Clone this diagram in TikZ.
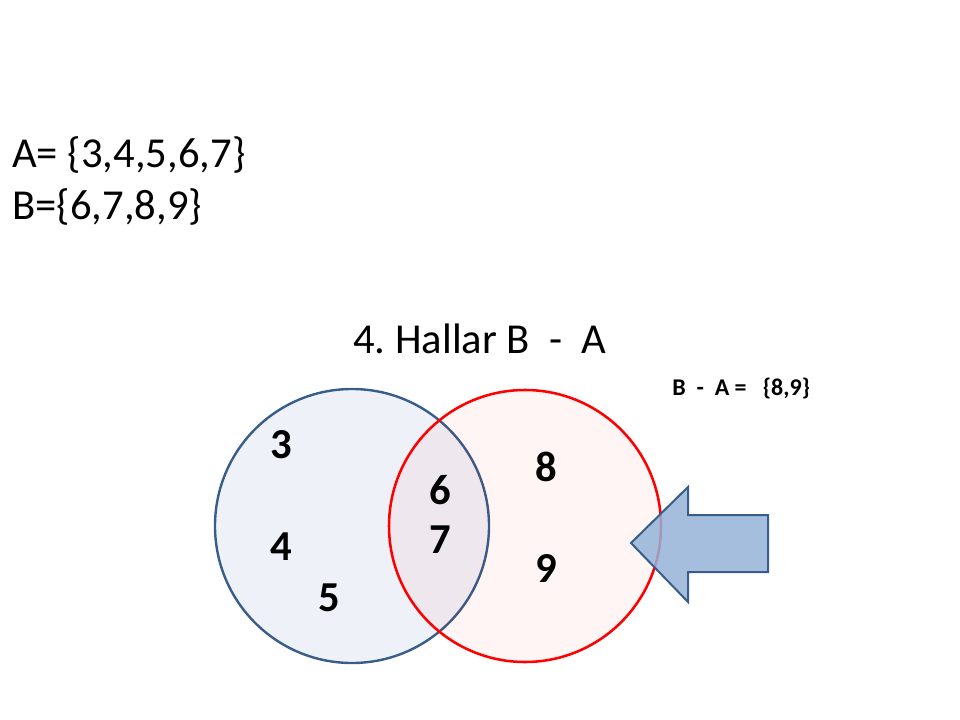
\documentclass[tikz,border=0pt]{standalone}
\usepackage{fontspec}
\setmainfont{Carlito}
\usepackage{tikz}
\usetikzlibrary{shapes,arrows}
\definecolor{setblue}{RGB}{56,93,138}
\definecolor{setfill}{RGB}{238,242,248}
\definecolor{arrowfill}{RGB}{149,179,215}
\tikzstyle{invis} = [draw=none, inner sep=0pt]
\tikzstyle{line} = [invis, anchor=base west, font=\fontsize{32}{34}\selectfont]
\tikzstyle{elem} = [invis, font=\bfseries\fontsize{32}{34}\selectfont]
\tikzstyle{setA} = [draw=setblue, fill=setfill, line width=1.8pt]
\tikzstyle{setB} = [draw=red, fill=red, fill opacity=0.04, line width=1.9pt]
\frenchspacing

\begin{document}
\begin{tikzpicture}[x=0.75pt,y=-0.75pt]
\useasboundingbox (0,0) rectangle (960,720);

\node[line] (defA) at (12,168) {A= \{3,4,5,6,7\}};
\node[line] (defB) at (12,220) {B=\{6,7,8,9\}};
\node[line] (title) at (353,353) {4. Hallar B\ \ -\ \ A};
\node[invis, anchor=base west, font=\bfseries\fontsize{18}{20}\selectfont] (res) at (672,395) {B\ \ -\ \ A =\ \ \ \{8,9\}};

% circles
\draw[setA] (352,526) circle (137);
\draw[setB] (525,526) circle (136);

\node[elem] (e3) at (281,445) {3};
\node[elem] (e4) at (281,547) {4};
\node[elem] (e5) at (329,598) {5};
\node[elem] (e6) at (440,490) {6};
\node[elem] (e7) at (440,540) {7};
\node[elem] (e8) at (546,467) {8};
\node[elem] (e9) at (546,569) {9};

% arrow
\draw[draw=setblue, fill=arrowfill, fill opacity=0.85, line width=1.5pt, line join=miter]
  (631,543) -- (688,487) -- (688,515) -- (768,515) -- (768,572) -- (688,572) -- (688,602) -- cycle;

\end{tikzpicture}
\end{document}
